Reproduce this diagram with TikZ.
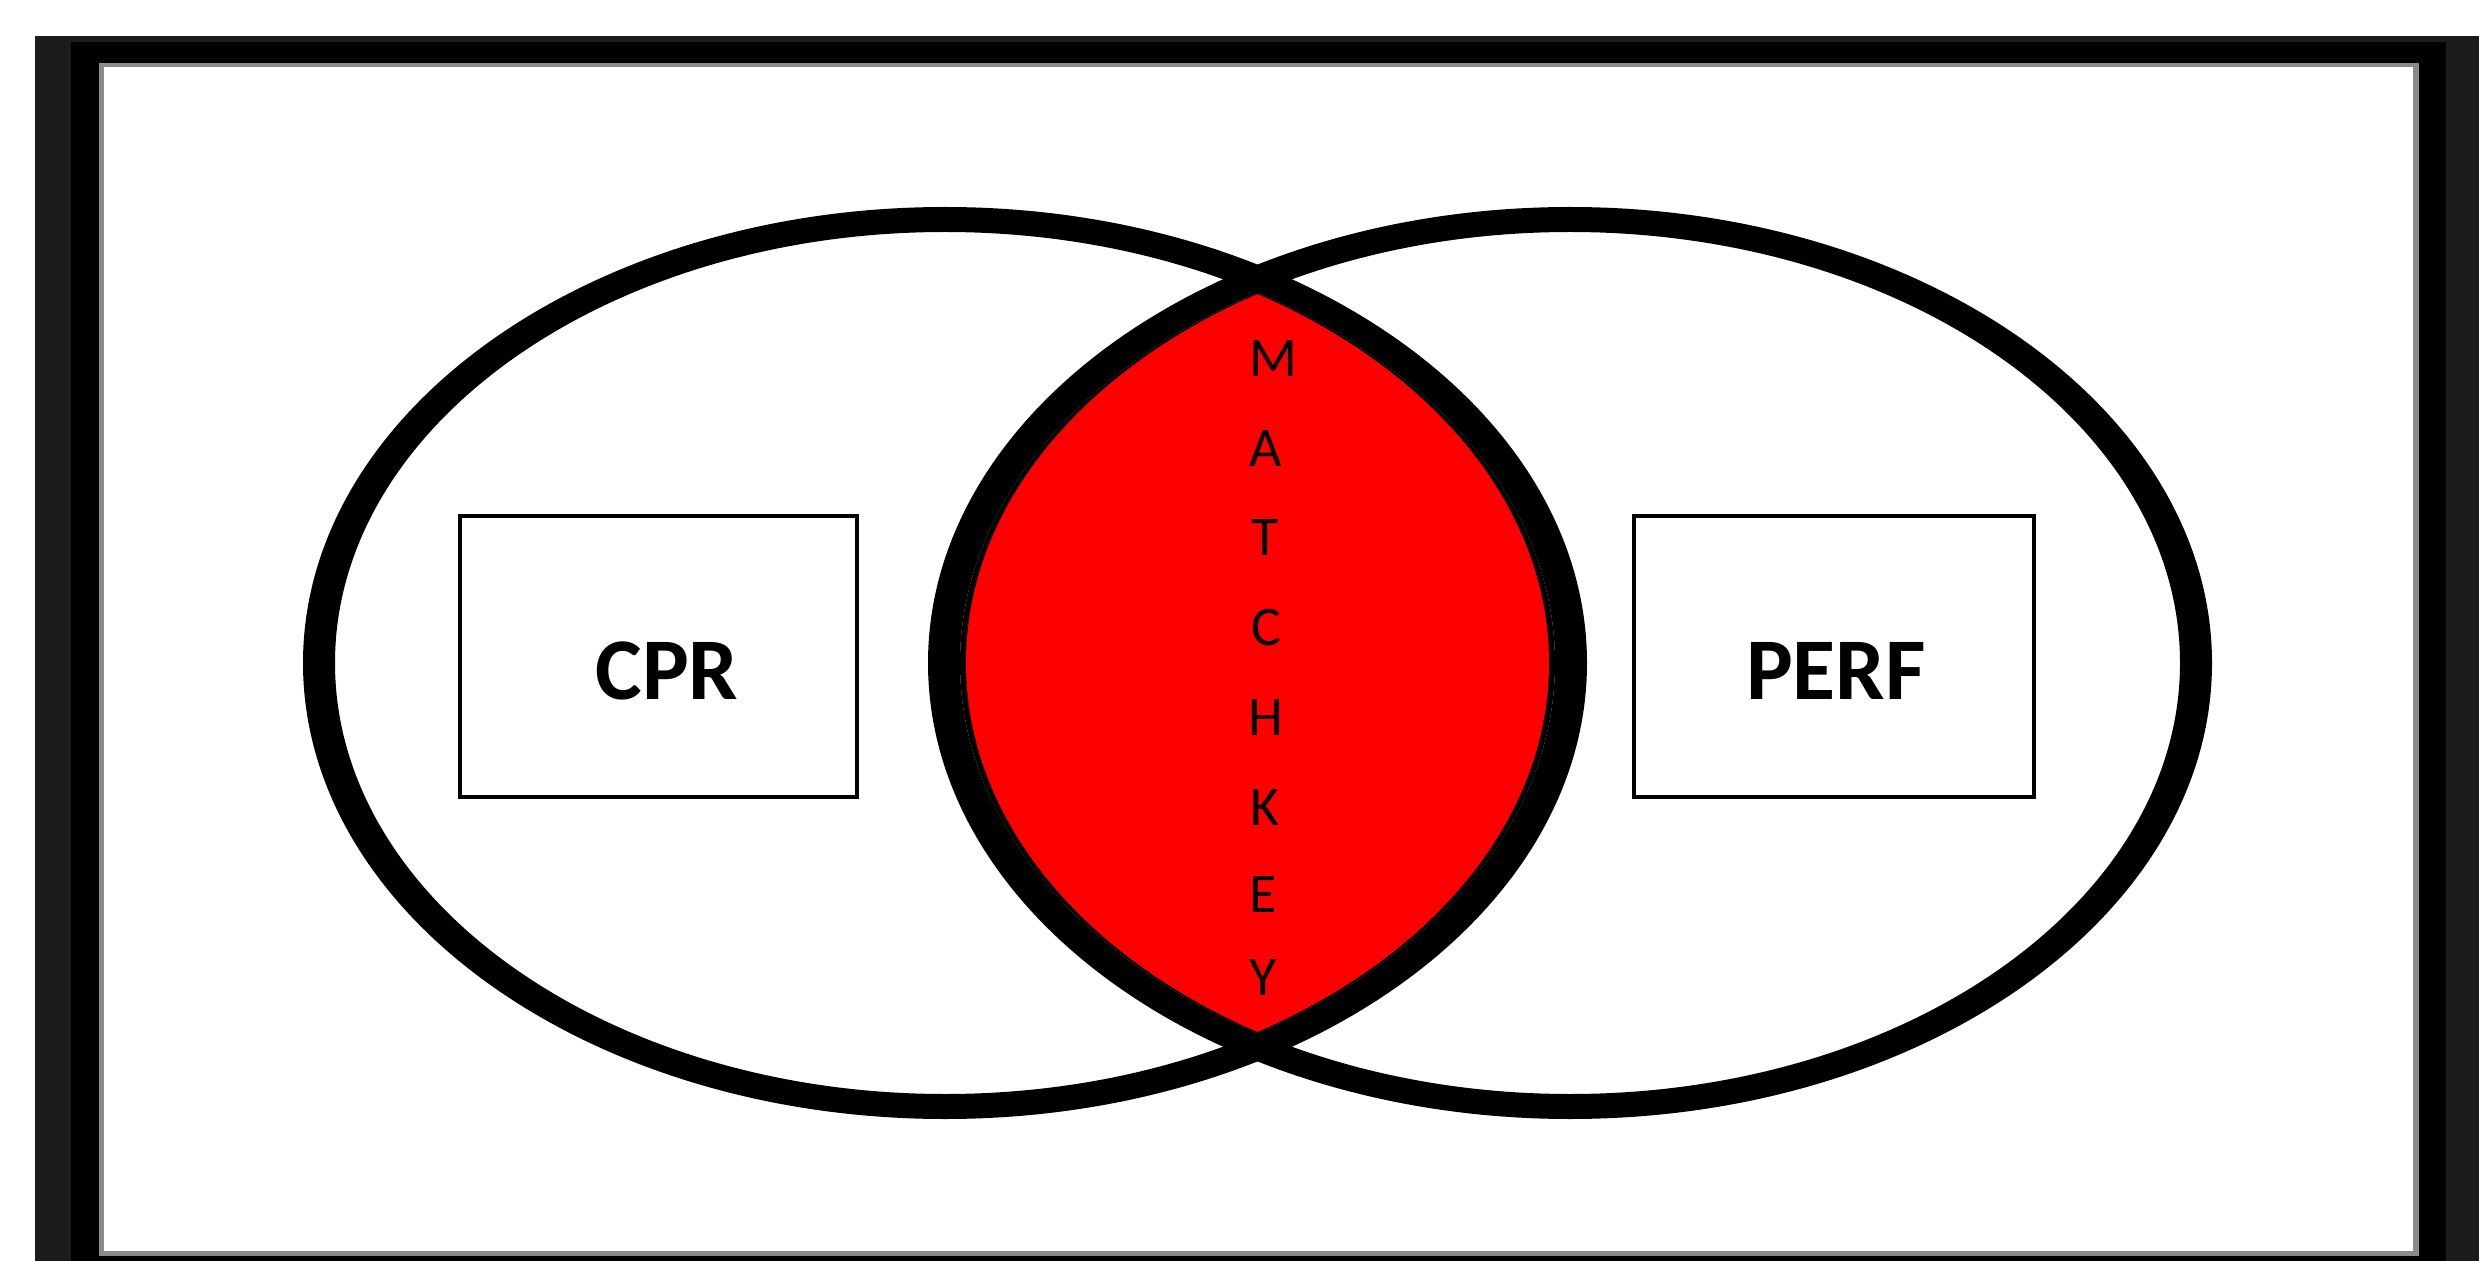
\documentclass[tikz,border=0pt]{standalone}
\usepackage{fontspec}
\setmainfont{Carlito}
\definecolor{framegray}{HTML}{1C1C1C}
\definecolor{rimgray}{HTML}{8A8A8A}
\definecolor{lensred}{HTML}{FF0000}
\begin{document}
\begin{tikzpicture}[x=0.5pt,y=-0.5pt,
  ring/.style={fill=black, even odd rule},
  setbox/.style={draw=black, line width=2.15pt, minimum width=#1,
    minimum height=140.5pt, inner sep=0pt},
  bigword/.style={font=\bfseries\fontsize{44}{52}\selectfont, inner sep=0pt},
  keyletter/.style={font=\fontsize{28}{32}\selectfont, inner sep=0pt}]
\useasboundingbox (0,0) rectangle (2479,1261);

% picture frame
\fill[framegray] (35,36) rectangle (2479,1261);
\fill[black] (71,42) rectangle (2446,1261);
\fill[rimgray] (99,63) rectangle (2419,1256);
\fill[white] (104,67) rectangle (2413,1251);

% the two sets as thick rings
\coordinate (cl) at (945,663);
\coordinate (cr) at (1570,663);
\fill[ring] (cl) ellipse [x radius=321pt, y radius=228pt]
            (cl) ellipse [x radius=305pt, y radius=215.5pt];
\fill[ring] (cr) ellipse [x radius=321pt, y radius=228pt]
            (cr) ellipse [x radius=305pt, y radius=215.5pt];

% overlap region: black rim, red fill
\begin{scope}
  \clip (cl) ellipse [x radius=305pt, y radius=215.5pt];
  \fill[black] (cr) ellipse [x radius=305pt, y radius=215.5pt];
\end{scope}
\begin{scope}
  \clip (cl) ellipse [x radius=302pt, y radius=215.5pt];
  \fill[lensred] (cr) ellipse [x radius=302pt, y radius=215.5pt];
\end{scope}

% set labels
\node[setbox=198.5pt] (cprbox) at (658.5,656.5) {};
\node[setbox=200pt] (perfbox) at (1834,656.5) {};
\node[bigword] (cpr) at (667,671) {CPR};
\node[bigword] (perf) at (1836,671) {PERF};

% key letters down the overlap
\foreach \ch/\xx/\yy [count=\i] in {M/1273/359, A/1266/449, T/1265/538,
    C/1266/628, H/1266/718, K/1265/808, E/1263/895, Y/1263/978}
  \node[keyletter] (mk\i) at (\xx,\yy) {\ch};
\end{tikzpicture}
\end{document}
